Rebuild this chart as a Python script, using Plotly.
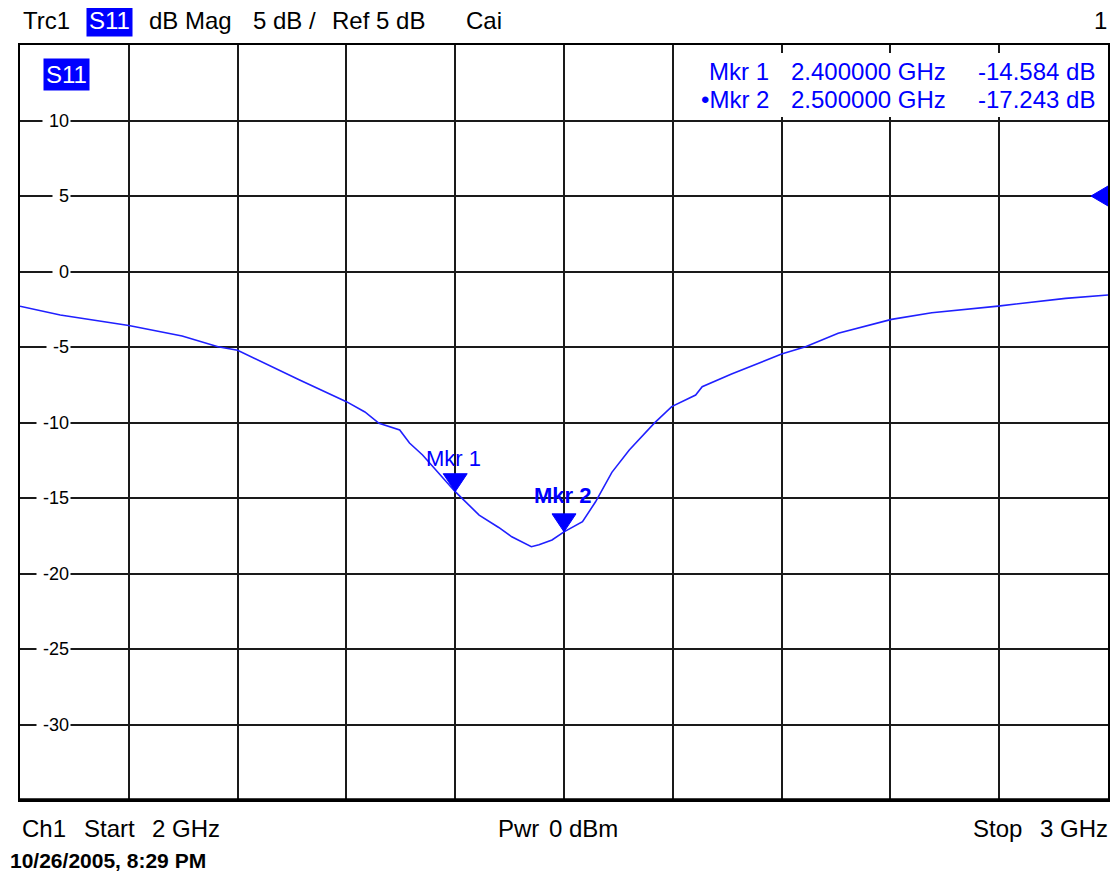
import plotly.graph_objects as go

# ---------------- data ----------------
freq_ghz = [2.000, 2.037, 2.100, 2.149, 2.182, 2.200, 2.257, 2.300, 2.317, 2.330, 2.349,
            2.358, 2.370, 2.400, 2.422, 2.440, 2.452, 2.470, 2.477, 2.489, 2.500, 2.517,
            2.529, 2.544, 2.560, 2.583, 2.599, 2.621, 2.627, 2.654, 2.700, 2.722, 2.752,
            2.801, 2.838, 2.899, 2.961, 3.000]
s11_db = [-2.30, -2.88, -3.58, -4.27, -4.98, -5.22, -7.19, -8.62, -9.30, -10.05, -10.50,
          -11.36, -12.15, -14.58, -16.13, -16.95, -17.57, -18.23, -18.10, -17.78, -17.24, -16.57,
          -15.25, -13.30, -11.82, -10.04, -8.95, -8.18, -7.63, -6.79, -5.47, -4.98, -4.09,
          -3.17, -2.73, -2.29, -1.78, -1.56]

marker_names = ["Mkr 1", "Mkr 2"]
marker_freq = [2.400000, 2.500000]
marker_db = [-14.584, -17.243]

y_ticks = [10, 5, 0, -5, -10, -15, -20, -25, -30]
ref_level = 5
start_ghz, stop_ghz = 2.0, 3.0
y_min, y_max = -35, 15

# ---------------- layout helpers ----------------
PAGE_W, PAGE_H = 1118, 875
OFF = 8                      # default body margin of the html page
W, H = PAGE_W - OFF, PAGE_H - OFF
L, R, T, B = 20, 1110, 45, 800   # plot area in page pixels
FONT = "Liberation Sans, Arial, sans-serif"
BLUE = "#0000ff"


def pxx(xp):
    return (xp - L) / (R - L)


def pyy(yp):
    return (B - yp) / (B - T)


fig = go.Figure()
fig.add_trace(go.Scatter(x=freq_ghz, y=s11_db, mode="lines",
                         line=dict(color="#2020ff", width=1.6), hoverinfo="skip",
                         showlegend=False))

ann = []
shapes = []


def text(s, x, y, anchor="left", size=24, color="black", bold=False, bg=None, pad=1):
    d = dict(text=("<b>%s</b>" % s) if bold else s, xref="paper", yref="paper",
             x=pxx(x), y=pyy(y), xanchor=anchor, yanchor="middle", showarrow=False,
             font=dict(family=FONT, size=size, color=color), borderpad=pad)
    if bg:
        d["bgcolor"] = bg
    ann.append(d)


# header
text("Trc1", 21, 20)
text("S11", 110, 20, anchor="center", color="white", bg=BLUE, pad=2)
text("dB Mag", 147, 20)
text("5 dB /", 251, 20)
text("Ref 5 dB", 331, 20)
text("Cai", 465, 20)
text("1", 1111, 20, anchor="right")

# inner S11 label
text("S11", 67, 75, anchor="center", color="white", bg=BLUE, pad=2)

# marker readout box
shapes.append(dict(type="rect", xref="paper", yref="paper", x0=pxx(680), x1=pxx(1108),
                   y0=pyy(117), y1=pyy(53), fillcolor="white", line=dict(width=0),
                   layer="above"))
rows_y = [71, 99]
for i, (nm, f, v) in enumerate(zip(marker_names, marker_freq, marker_db)):
    label = nm if i == 0 else "\u2022" + nm
    text(label, 772, rows_y[i], anchor="right", color=BLUE)
    text("%.6f GHz" % f, 790, rows_y[i], color=BLUE)
    text("%.3f dB" % v, 1099, rows_y[i], anchor="right", color=BLUE)

# y tick labels inside plot
for t in y_ticks:
    ann.append(dict(text=" %d" % t, xref="paper", yref="y", x=pxx(71), y=t,
                    xanchor="right", yanchor="middle", showarrow=False, bgcolor="white",
                    borderpad=1, font=dict(family=FONT, size=18, color="black")))

# marker triangles and labels
for i, (nm, f, v) in enumerate(zip(marker_names, marker_freq, marker_db)):
    shapes.append(dict(type="path", xref="x", yref="y", xsizemode="pixel",
                       ysizemode="pixel", xanchor=f, yanchor=v,
                       path="M-12,18 L12,18 L0,0 Z", fillcolor=BLUE,
                       line=dict(color=BLUE, width=1), layer="above"))
    ann.append(dict(text=("<b>%s</b>" % nm) if i == 1 else nm, xref="x", yref="y",
                    x=f, y=v, xanchor="center", yanchor="bottom", yshift=19 if i == 0 else 22,
                    xshift=-2, showarrow=False,
                    font=dict(family=FONT, size=22, color=BLUE)))

# reference level marker on the right edge
shapes.append(dict(type="path", xref="x", yref="y", xsizemode="pixel", ysizemode="pixel",
                   xanchor=stop_ghz, yanchor=ref_level, path="M0,10 L0,-10 L-17,0 Z",
                   fillcolor=BLUE, line=dict(color=BLUE, width=1), layer="above"))

# thicker bottom border
shapes.append(dict(type="line", xref="paper", yref="paper", x0=0, x1=1, y0=0, y1=0,
                   line=dict(color="black", width=3.5), layer="above"))

# footer
text("Ch1", 20, 828)
text("Start", 82, 828)
text("2 GHz", 150, 828)
text("Pwr", 497, 828)
text("0 dBm", 548, 828)
text("Stop", 973, 828)
text("3 GHz", 1112, 828, anchor="right")
text("10/26/2005, 8:29 PM", 8, 860, size=21, bold=True)

fig.update_layout(
    width=W, height=H,
    margin=dict(l=L - OFF, r=PAGE_W - R, t=T - OFF, b=PAGE_H - B, pad=0),
    paper_bgcolor="white", plot_bgcolor="white",
    annotations=ann, shapes=shapes,
    xaxis=dict(range=[start_ghz, stop_ghz], dtick=0.1, tick0=start_ghz, showgrid=True,
               gridcolor="#1a1a1a", gridwidth=1.8, showticklabels=False, ticks="",
               zeroline=False, showline=True, mirror=True, linecolor="black",
               linewidth=2, fixedrange=True),
    yaxis=dict(range=[y_min, y_max], dtick=5, tick0=0, showgrid=True,
               gridcolor="#1a1a1a", gridwidth=1.8, showticklabels=False, ticks="",
               zeroline=False, showline=True, mirror=True, linecolor="black",
               linewidth=2, fixedrange=True),
    font=dict(family=FONT),
)

fig.write_html("out.html")
